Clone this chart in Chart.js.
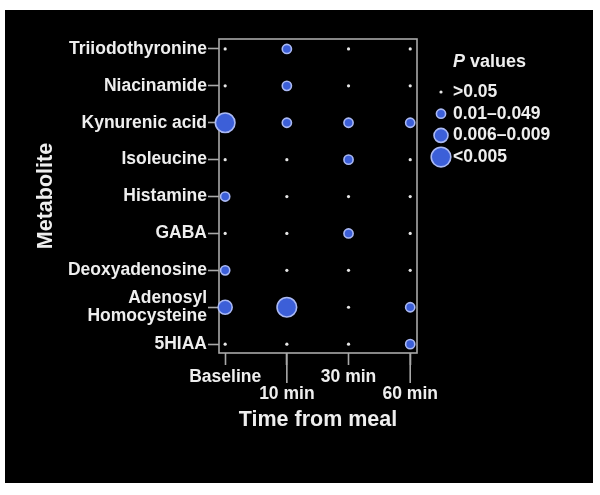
<!DOCTYPE html>
<html>
<head>
<meta charset="utf-8">
<script src="https://cdn.jsdelivr.net/npm/chart.js@4/dist/chart.umd.min.js"></script>
<style>
  html, body { margin: 0; padding: 0; background: #ffffff; }
  #panel { position: absolute; left: 5px; top: 10px; width: 588px; height: 473px; background: #000000; }
  #panel canvas { position: absolute; left: 0; top: 0; }
</style>
</head>
<body>
<div id="panel"><canvas id="c" width="588" height="473"></canvas></div>
<script>
// ---- Data ----
const metabolites = ['Triiodothyronine', 'Niacinamide', 'Kynurenic acid', 'Isoleucine', 'Histamine', 'GABA', 'Deoxyadenosine', 'Adenosyl\nHomocysteine', '5HIAA'];
const timepoints = ['Baseline', '10 min', '30 min', '60 min'];
const pClassLabels = ['>0.05', '0.01\u20130.049', '0.006\u20130.009', '<0.005'];
// P-value class for each metabolite (0: >0.05, 1: 0.01-0.049, 2: 0.006-0.009, 3: <0.005)
const baseline = [0, 0, 3, 0, 1, 0, 1, 2, 0];
const min10    = [1, 1, 1, 0, 0, 0, 0, 3, 0];
const min30    = [0, 0, 1, 1, 0, 1, 0, 0, 0];
const min60    = [0, 0, 1, 0, 0, 0, 0, 1, 1];
const columns = [baseline, min10, min30, min60];

// ---- Styles ----
const FONT = "'Liberation Sans', Arial, Helvetica, sans-serif";
const TEXT = '#eeeeee';
const FRAME = '#a9a9a9';
const radii = [1.6, 4.6, 7, 9.8];
const fills = ['#e6e6e6', '#3c5fd8', '#3c5fd8', '#3c5fd8'];
const borders = ['#e6e6e6', '#aab9f4', '#aab9f4', '#aab9f4'];
const borderWidths = [0, 1.6, 1.6, 1.6];

const datasets = pClassLabels.map((lab, k) => {
  const pts = [];
  columns.forEach((col, xi) => col.forEach((cls, yi) => { if (cls === k) pts.push({ x: xi, y: yi }); }));
  return {
    label: lab, data: pts,
    pointRadius: radii[k], pointHoverRadius: radii[k],
    backgroundColor: fills[k], borderColor: borders[k], borderWidth: borderWidths[k],
    clip: false
  };
});

Chart.defaults.font.family = FONT;
Chart.defaults.color = TEXT;

const framePlugin = {
  id: 'frame',
  beforeDatasetsDraw(chart) {
    const { ctx, chartArea: a } = chart;
    ctx.save();
    ctx.strokeStyle = FRAME;
    ctx.lineWidth = 1.6;
    ctx.strokeRect(a.left, a.top, a.right - a.left, a.bottom - a.top);
    // longer tick marks for staggered x labels
    const xs = chart.scales.x;
    xs.ticks.forEach((t, i) => {
      if (i % 2 === 1) {
        const px = xs.getPixelForValue(t.value);
        ctx.beginPath();
        ctx.moveTo(px, a.bottom);
        ctx.lineTo(px, a.bottom + 30);
        ctx.stroke();
      }
    });
    ctx.restore();
  },
  afterDraw(chart) {
    const { ctx } = chart;
    ctx.save();
    // Legend title with italic P
    const titleY = 52, textX = 448;
    ctx.fillStyle = TEXT;
    ctx.textBaseline = 'middle';
    ctx.textAlign = 'left';
    ctx.font = "italic bold 18px " + FONT;
    ctx.fillText('P', textX, titleY);
    const pw = ctx.measureText('P ').width;
    ctx.font = "bold 18px " + FONT;
    ctx.fillText('values', textX + pw, titleY);
    // Legend items
    chart.data.datasets.forEach((ds, k) => {
      const y = 82 + k * 21.7;
      ctx.beginPath();
      ctx.arc(436, y, ds.pointRadius, 0, Math.PI * 2);
      ctx.fillStyle = ds.backgroundColor;
      ctx.fill();
      if (ds.borderWidth) {
        ctx.lineWidth = ds.borderWidth;
        ctx.strokeStyle = ds.borderColor;
        ctx.stroke();
      }
      ctx.fillStyle = TEXT;
      ctx.font = "bold 17.5px " + FONT;
      ctx.fillText(ds.label, textX, y);
    });
    ctx.restore();
  }
};

new Chart(document.getElementById('c'), {
  type: 'scatter',
  data: { datasets },
  options: {
    responsive: false,
    animation: false,
    events: [],
    layout: { padding: { left: 0, top: 29, right: 176, bottom: 0 } },
    plugins: { legend: { display: false }, tooltip: { enabled: false } },
    scales: {
      x: {
        type: 'linear', position: 'bottom',
        min: -0.1, max: 3.11,
        afterBuildTicks: s => { s.ticks = timepoints.map((_, i) => ({ value: i })); },
        afterFit: s => { s.height = 130; },
        border: { display: false },
        grid: { display: true, drawOnChartArea: false, drawTicks: true, tickLength: 12, tickColor: FRAME, tickWidth: 1.6 },
        ticks: {
          autoSkip: false, maxRotation: 0, padding: 3,
          font: { size: 17.5, weight: 'bold', lineHeight: 1.0 }, color: TEXT,
          callback: v => (v % 2 === 1 ? ['', timepoints[v]] : timepoints[v])
        },
        title: { display: true, text: 'Time from meal', color: TEXT, font: { size: 21.5, weight: 'bold' }, padding: { top: 0, bottom: 50 } }
      },
      y: {
        type: 'linear', position: 'left', reverse: true,
        min: -0.27, max: 8.24,
        afterBuildTicks: s => { s.ticks = metabolites.map((_, i) => ({ value: i })); },
        afterFit: s => { s.width = 214; },
        border: { display: false },
        grid: { display: true, drawOnChartArea: false, drawTicks: true, tickLength: 11, tickColor: FRAME, tickWidth: 1.6 },
        ticks: {
          autoSkip: false, padding: 1,
          font: { size: 17.5, weight: 'bold', lineHeight: 1.03 }, color: TEXT,
          callback: v => metabolites[v].split('\n')
        },
        title: { display: true, text: 'Metabolite', color: TEXT, font: { size: 21.5, weight: 'bold' }, padding: { top: 28, bottom: 0 } }
      }
    }
  },
  plugins: [framePlugin]
});
</script>
</body>
</html>
